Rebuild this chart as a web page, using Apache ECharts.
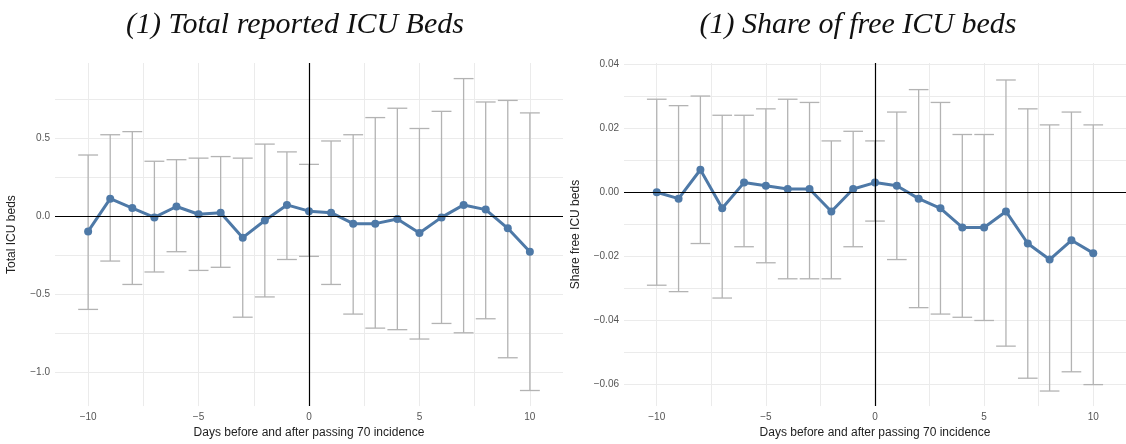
<!DOCTYPE html>
<html>
<head>
<meta charset="utf-8">
<script src="https://cdn.jsdelivr.net/npm/echarts@6/dist/echarts.min.js"></script>
<style>html,body{margin:0;padding:0;background:#fff}#main{width:1126px;height:444px}</style>
</head>
<body>
<div id="main"></div>
<script>
let days = [-10,-9,-8,-7,-6,-5,-4,-3,-2,-1,0,1,2,3,4,5,6,7,8,9,10]
// panel 1: total ICU beds
let totEst = [-0.10,0.11,0.05,-0.01,0.06,0.01,0.02,-0.14,-0.03,0.07,0.03,0.02,-0.05,-0.05,-0.02,-0.11,-0.01,0.07,0.04,-0.08,-0.23]
let totLo = [-0.60,-0.29,-0.44,-0.36,-0.23,-0.35,-0.33,-0.65,-0.52,-0.28,-0.26,-0.44,-0.63,-0.72,-0.73,-0.79,-0.69,-0.75,-0.66,-0.91,-1.12]
let totHi = [0.39,0.52,0.54,0.35,0.36,0.37,0.38,0.37,0.46,0.41,0.33,0.48,0.52,0.63,0.69,0.56,0.67,0.88,0.73,0.74,0.66]
// panel 2: share free ICU beds
let shEst = [0.000,-0.002,0.007,-0.005,0.003,0.002,0.001,0.001,-0.006,0.001,0.003,0.002,-0.002,-0.005,-0.011,-0.011,-0.006,-0.016,-0.021,-0.015,-0.019]
let shLo = [-0.029,-0.031,-0.016,-0.033,-0.017,-0.022,-0.027,-0.027,-0.027,-0.017,-0.009,-0.021,-0.036,-0.038,-0.039,-0.040,-0.048,-0.058,-0.062,-0.056,-0.060]
let shHi = [0.029,0.027,0.030,0.024,0.024,0.026,0.029,0.028,0.016,0.019,0.016,0.025,0.032,0.028,0.018,0.018,0.035,0.026,0.021,0.025,0.021]

let xTicks = [-10,-5,0,5,10]
let xGrid = [-10,-7.5,-5,-2.5,0,2.5,5,7.5,10]
let y1Ticks = [-1.0,-0.5,0.0,0.5]
let y1Grid = [-1.0,-0.75,-0.5,-0.25,0,0.25,0.5,0.75]
let y2Ticks = [-0.06,-0.04,-0.02,0.00,0.02,0.04]
let y2Grid = [-0.06,-0.05,-0.04,-0.03,-0.02,-0.01,0,0.01,0.02,0.03,0.04]

var chart = echarts.init(document.getElementById('main'))
var font = 'Liberation Sans, Arial, sans-serif'

function xAxis(idx) {
    return {
        type: 'value', gridIndex: idx, min: -11.5, max: 11.5,
        name: 'Days before and after passing 70 incidence', nameLocation: 'middle', nameGap: 20,
        nameTextStyle: {fontFamily: font, fontSize: 12, color: '#222'},
        axisLine: {show: false}, axisTick: {show: false, customValues: xGrid},
        axisLabel: {customValues: xTicks, color: '#555', fontSize: 10, fontFamily: font, margin: 6,
            formatter: v => String(v).replace('-', '\u2212')},
        splitLine: {show: true, lineStyle: {color: '#ebebeb', width: 1}}
    }
}
function yAxis(idx, min, max, ticks, grid, name, gap, fmt) {
    return {
        type: 'value', gridIndex: idx, min: min, max: max,
        name: name, nameLocation: 'middle', nameGap: gap,
        nameTextStyle: {fontFamily: font, fontSize: 12, color: '#222'},
        axisLine: {show: false}, axisTick: {show: false, customValues: grid},
        axisLabel: {customValues: ticks, color: '#555', fontSize: 10, fontFamily: font, margin: 5,
            formatter: v => fmt(v).replace('-', '\u2212')},
        splitLine: {show: true, lineStyle: {color: '#ebebeb', width: 1}}
    }
}
function errBars(idx, lo, hi) {
    return {
        type: 'custom', xAxisIndex: idx, yAxisIndex: idx, z: 2,
        data: days.map((d, i) => [d, lo[i], hi[i]]),
        renderItem: function (params, api) {
            let x = api.value(0)
            let a = api.coord([x, api.value(1)])
            let b = api.coord([x, api.value(2)])
            let w = api.size([0.9, 0])[0] / 2
            let st = {stroke: '#b3b3b3', lineWidth: 1.3}
            return {type: 'group', children: [
                {type: 'line', shape: {x1: a[0], y1: a[1], x2: b[0], y2: b[1]}, style: st},
                {type: 'line', shape: {x1: a[0] - w, y1: a[1], x2: a[0] + w, y2: a[1]}, style: st},
                {type: 'line', shape: {x1: b[0] - w, y1: b[1], x2: b[0] + w, y2: b[1]}, style: st}
            ]}
        }
    }
}
function estLine(idx, est) {
    return {
        type: 'line', xAxisIndex: idx, yAxisIndex: idx, z: 3,
        data: days.map((d, i) => [d, est[i]]),
        symbol: 'circle', symbolSize: 8,
        lineStyle: {color: '#4e79a7', width: 3}, itemStyle: {color: '#4e79a7'},
        markLine: {silent: true, symbol: 'none', label: {show: false},
            lineStyle: {color: '#000', width: 1.2, type: 'solid'},
            data: [{xAxis: 0}, {yAxis: 0}]}
    }
}

chart.setOption({
    animation: false,
    title: [
        {text: '(1) Total reported ICU Beds', left: 290, top: 5, textAlign: 'center',
            textStyle: {fontFamily: 'Liberation Serif, serif', fontStyle: 'italic', fontWeight: 'normal', fontSize: 30, color: '#111'}},
        {text: '(1) Share of free ICU beds', left: 853, top: 5, textAlign: 'center',
            textStyle: {fontFamily: 'Liberation Serif, serif', fontStyle: 'italic', fontWeight: 'normal', fontSize: 30, color: '#111'}}
    ],
    grid: [
        {left: 55, top: 63, width: 508, height: 345},
        {left: 624, top: 63, width: 502, height: 345}
    ],
    xAxis: [xAxis(0), xAxis(1)],
    yAxis: [
        yAxis(0, -1.22, 0.98, y1Ticks, y1Grid, 'Total ICU beds', 37, v => v.toFixed(1)),
        yAxis(1, -0.0667, 0.0403, y2Ticks, y2Grid, 'Share free ICU beds', 42, v => v.toFixed(2))
    ],
    series: [errBars(0, totLo, totHi), estLine(0, totEst), errBars(1, shLo, shHi), estLine(1, shEst)]
})
</script>
</body>
</html>
